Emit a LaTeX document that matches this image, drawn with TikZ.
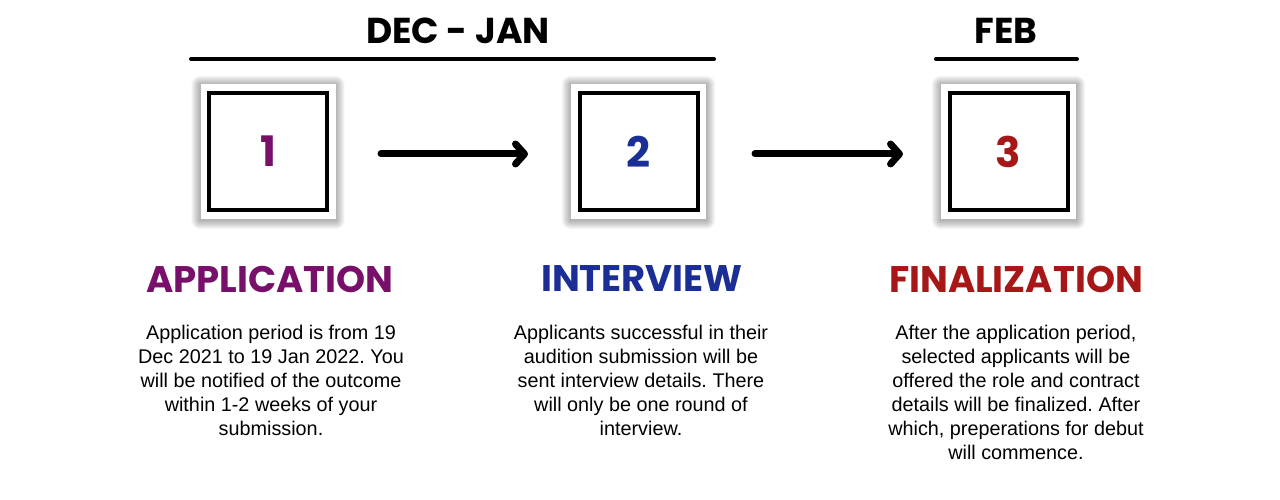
\documentclass[tikz,border=0pt]{standalone}
\usepackage{fontspec}
\setmainfont{Liberation Sans}
\newfontfamily\headfont{Poppins}[UprightFont=* Bold]
\usetikzlibrary{arrows.meta}
\definecolor{cpurple}{HTML}{780F6A}
\definecolor{cblue}{HTML}{1B2E96}
\definecolor{cred}{HTML}{A81717}
\tikzset{
  x=1pt,y=-1pt,
  outerbox/.style={fill=white,minimum width=135pt,minimum height=135pt,inner sep=0pt},
  innerbox/.style={draw=black,line width=4pt,fill=white,minimum width=118pt,minimum height=117pt,inner sep=0pt,
    font=\headfont\fontsize{42}{42}\selectfont},
  period/.style={font=\headfont\fontsize{36}{36}\selectfont,inner sep=0pt},
  bar/.style={line width=4pt,line cap=round},
  flow/.style={line width=7pt,line cap=round,-{Straight Barb[round,length=9pt,width=20pt,line width=7pt]}},
  heading/.style={font=\headfont\fontsize{37}{37}\selectfont,inner sep=0pt},
  body/.style={font=\fontsize{19.8}{24}\selectfont,align=center,inner sep=0pt,anchor=north},
}
\newcommand{\softshadow}[1]{%
  \foreach \r in {1,...,9}{%
    \fill[black,opacity=0.035,rounded corners=\r pt]
      ([xshift=-\r pt,yshift=\r pt-1pt]#1.north west) rectangle ([xshift=\r pt,yshift=-\r pt-1pt]#1.south east);
  }}
\begin{document}
\begin{tikzpicture}
\frenchspacing
\useasboundingbox (0,0) rectangle (1280,500);
\fill[white] (0,0) rectangle (1280,500);
% shadow placeholders
\path (268,151.5) node[outerbox,fill=none] (s1) {}
      (638.5,151.5) node[outerbox,fill=none] (s2) {}
      (1008.5,151.5) node[outerbox,fill=none] (s3) {};
\softshadow{s1}
\softshadow{s2}
\softshadow{s3}
% boxes
\node[outerbox] (o1) at (268,151.5) {};
\node[outerbox] (o2) at (638.5,151.5) {};
\node[outerbox] (o3) at (1008.5,151.5) {};
\node[innerbox,text=cpurple] (b1) at (268,151.5) {1};
\node[innerbox,text=cblue] (b2) at (638.5,151.5) {2};
\node[innerbox,text=cred] (b3) at (1008.5,151.5) {3};
% periods
\node[period] (p1) at (458,31) {DEC - JAN};
\node[period] (p2) at (1006,31) {FEB};
\coordinate (l1a) at (191,59);
\coordinate (l1b) at (714,59);
\coordinate (l2a) at (936,59);
\coordinate (l2b) at (1077,59);
\draw[bar] (l1a) -- (l1b);
\draw[bar] (l2a) -- (l2b);
% arrows
\coordinate (a1s) at (381,154);
\coordinate (a1e) at (528,154);
\coordinate (a2s) at (755,154);
\coordinate (a2e) at (903,154);
\draw[flow] (a1s) -- (a1e);
\draw[flow] (a2s) -- (a2e);
% headings
\node[heading,text=cpurple] (h1) at (270,279) {APPLICATION};
\node[heading,text=cblue] (h2) at (642,279) {INTERVIEW};
\node[heading,text=cred] (h3) at (1016,279) {FINALIZATION};
% body
\node[body] (t1) at (271,325) {Application period is from 19\\Dec 2021 to 19 Jan 2022. You\\will be notified of the outcome\\within 1-2 weeks of your\\submission.};
\node[body] (t2) at (641,325) {Applicants successful in their\\audition submission will be\\sent interview details. There\\will only be one round of\\interview.};
\node[body] (t3) at (1016,325) {After the application period,\\selected applicants will be\\offered the role and contract\\details will be finalized. After\\which, preperations for debut\\will commence.};
\end{tikzpicture}
\end{document}
